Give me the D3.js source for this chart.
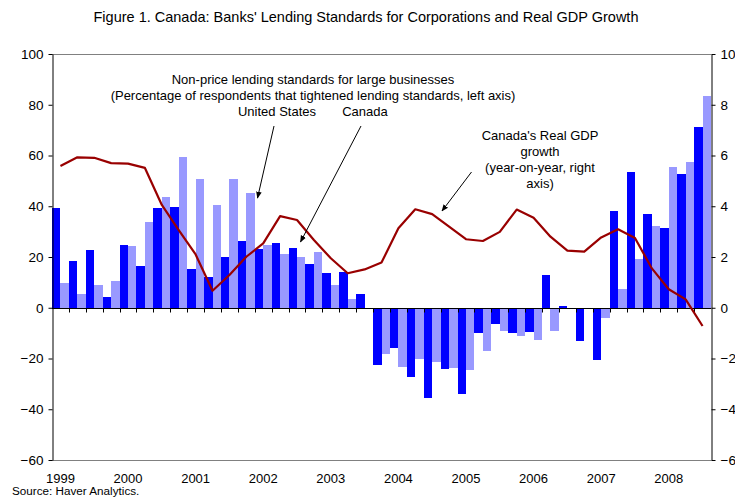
<!DOCTYPE html>
<html>
<head>
<meta charset="utf-8">
<script src="https://cdn.jsdelivr.net/npm/d3@7"></script>
<style>
  body { margin: 0; background: #fff; }
  svg { display: block; font-family: "Liberation Sans", Arial, sans-serif; }
</style>
</head>
<body>
<svg id="chart" width="735" height="498"></svg>
<script>
// ---- Data ----
const years = [1999, 2000, 2001, 2002, 2003, 2004, 2005, 2006, 2007, 2008];
const quarters = [];
years.forEach(y => [1, 2, 3, 4].forEach(q => { if (!(y === 2008 && q === 4)) quarters.push(y + "Q" + q); }));

// Percentage of respondents that tightened standards (left axis)
const canada = [39.4, 18.5, 22.8, 4.3, 24.9, 16.6, 39.4, 39.8, 15.3, 12.1, 20.0, 26.4, 23.3, 25.6, 23.5, 17.2, 13.7, 14.1, 5.4,
  -22.6, -15.9, -27.2, -35.6, -24.1, -34.0, -9.8, -6.4, -9.8, -9.6, 12.9, 0.7, -13.0, -20.5, 38.1, 53.5, 36.9, 31.4, 52.7, 71.2];
const unitedStates = [9.75, 5.4, 9.0, 10.7, 24.5, 33.8, 43.6, 59.4, 50.9, 40.6, 50.9, 45.2, 24.9, 21.2, 20.0, 21.9, 9.0, 3.4, 0,
  -18.1, -23.3, -20.2, -21.2, -23.6, -24.5, -17.0, -9.2, -11.0, -12.7, -9.1, 0, 0, -3.9, 7.5, 19.2, 32.4, 55.4, 57.4, 83.6];
// Canada real GDP growth, y/y (right axis)
const gdpGrowth = [5.59, 5.93, 5.91, 5.70, 5.68, 5.51, 4.05, 3.06, 2.10, 0.67, 1.29, 2.01, 2.54, 3.61, 3.46, 2.67, 1.95, 1.36, 1.51,
  1.78, 3.13, 3.88, 3.69, 3.20, 2.70, 2.63, 2.99, 3.87, 3.55, 2.80, 2.25, 2.21, 2.77, 3.09, 2.75, 1.55, 0.73, 0.33, -0.72];

const leftTicks = [100, 80, 60, 40, 20, 0, -20, -40, -60];
const rightTicks = [10, 8, 6, 4, 2, 0, -2, -4, -6];
const yearLabels = years.map(String);

const title = "Figure 1. Canada: Banks' Lending Standards for Corporations and Real GDP Growth";
const source = "Source: Haver Analytics.";

// ---- Layout ----
const svg = d3.select("#chart");
const L = 52, R = 711, T = 54, B = 460;
const colDark = "#0000ff", colLight = "#9999ff", colLine = "#990000";

const x = d3.scaleBand().domain(quarters).range([L, R]).padding(0);
const xs = d3.scaleBand().domain(["Canada", "US"]).range([0, x.bandwidth()]).padding(0);
const yL = d3.scaleLinear().domain([-60, 100]).range([B, T]);
const yR = d3.scaleLinear().domain([-6, 10]).range([B, T]);

// title
svg.append("text").attr("x", 366).attr("y", 22).attr("text-anchor", "middle")
  .attr("font-size", "14.5px").attr("fill", "#000").text(title);

// frame top/bottom
svg.append("line").attr("x1", L).attr("x2", R).attr("y1", T + 0.5).attr("y2", T + 0.5).attr("stroke", "#808080");
svg.append("line").attr("x1", L).attr("x2", R).attr("y1", B + 0.5).attr("y2", B + 0.5).attr("stroke", "#808080");

// bars
const barData = [];
quarters.forEach((q, i) => {
  barData.push({ q, s: "Canada", v: canada[i] });
  barData.push({ q, s: "US", v: unitedStates[i] });
});
svg.append("g").selectAll("rect").data(barData).join("rect")
  .attr("x", d => x(d.q) + xs(d.s))
  .attr("width", xs.bandwidth())
  .attr("y", d => Math.min(yL(d.v), yL(0)))
  .attr("height", d => Math.abs(yL(d.v) - yL(0)))
  .attr("fill", d => d.s === "Canada" ? colDark : colLight)
  .attr("shape-rendering", "crispEdges");

// zero line with quarter ticks
const zeroY = Math.round(yL(0)) + 0.5;
svg.append("line").attr("x1", L).attr("x2", R).attr("y1", zeroY).attr("y2", zeroY).attr("stroke", "#000");
svg.append("g").selectAll("line").data(quarters.slice(1)).join("line")
  .attr("x1", d => Math.round(x(d)) + 0.5).attr("x2", d => Math.round(x(d)) + 0.5)
  .attr("y1", zeroY).attr("y2", zeroY + 4).attr("stroke", "#000");

// left axis
const axL = svg.append("g").attr("transform", `translate(${L + 0.5},0)`)
  .call(d3.axisLeft(yL).tickValues(leftTicks).tickSize(4).tickSizeOuter(0).tickPadding(5));
axL.select(".domain").attr("stroke", "#000");
axL.selectAll("text").attr("font-size", "13.5px").attr("font-family", "Liberation Sans, Arial, sans-serif").attr("fill", "#000");

// right axis
const axR = svg.append("g").attr("transform", `translate(${R + 0.5},0)`)
  .call(d3.axisRight(yR).tickValues(rightTicks).tickSize(4).tickSizeOuter(0).tickPadding(5));
axR.select(".domain").attr("stroke", "#000");
axR.selectAll("text").attr("font-size", "13.5px").attr("font-family", "Liberation Sans, Arial, sans-serif").attr("fill", "#000");

// year labels
svg.append("g").selectAll("text").data(yearLabels).join("text")
  .attr("x", d => x(d + "Q1") + x.bandwidth() / 2)
  .attr("y", 482.5).attr("text-anchor", "middle").attr("font-size", "13px").text(d => d);

// GDP line
const line = d3.line().x((d, i) => x(quarters[i]) + x.bandwidth() / 2).y(d => yR(d));
svg.append("path").datum(gdpGrowth).attr("d", line)
  .attr("fill", "none").attr("stroke", colLine).attr("stroke-width", 2.2).attr("stroke-linejoin", "round");

// source
svg.append("text").attr("x", 12).attr("y", 495.3).attr("font-size", "11.7px").text(source);

// annotations
const ann = svg.append("g").attr("font-size", "13px").attr("text-anchor", "middle").attr("fill", "#000");
ann.append("text").attr("x", 313).attr("y", 84).text("Non-price lending standards for large businesses");
ann.append("text").attr("x", 313).attr("y", 100).text("(Percentage of respondents that tightened lending standards, left axis)");
ann.append("text").attr("x", 277).attr("y", 116).text("United States");
ann.append("text").attr("x", 365).attr("y", 116).text("Canada");
[["Canada's Real GDP", 140], ["growth", 156], ["(year-on-year, right", 172], ["axis)", 188]]
  .forEach(([t, yy]) => ann.append("text").attr("x", 540).attr("y", yy).text(t));

// arrows
svg.append("defs").append("marker").attr("id", "ah").attr("viewBox", "0 0 10 10")
  .attr("refX", 9).attr("refY", 5).attr("markerWidth", 7).attr("markerHeight", 7).attr("orient", "auto")
  .append("path").attr("d", "M0,1 L10,5 L0,9 Z").attr("fill", "#000");
const arrows = [
  [274, 126, 257.5, 198],
  [361, 126, 300.5, 242],
  [471.5, 172, 442, 211]
];
svg.append("g").selectAll("line").data(arrows).join("line")
  .attr("x1", d => d[0]).attr("y1", d => d[1]).attr("x2", d => d[2]).attr("y2", d => d[3])
  .attr("stroke", "#000").attr("stroke-width", 1).attr("marker-end", "url(#ah)");
</script>
</body>
</html>
